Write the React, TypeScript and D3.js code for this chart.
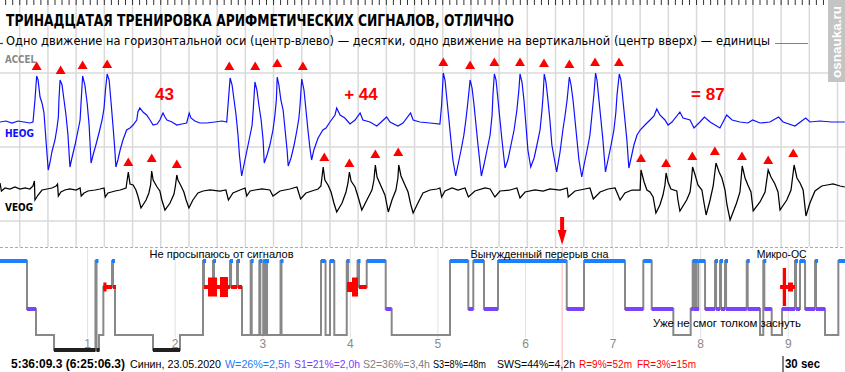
import * as d3 from 'd3';

// ---------- epoch view: 30 s starting at 5:36:09.3 ----------
const epochLength = 30;
const firstWholeSecond = 0.7;

// HEOG trace [sec, amplitude]
const heog: [number, number][] = [
  [0, 0], [0.21, 1], [0.43, -1], [0.64, 1], [0.85, 0], [1.06, -1], [1.17, 0], [1.24, 22], [1.30, 46], [1.35, 42],
  [1.42, 25], [1.49, 19], [1.56, 9], [1.63, -18], [1.71, -48], [1.77, -41], [1.84, -30], [1.95, -18], [2.02, -6], [2.07, 5],
  [2.09, 22], [2.13, 42], [2.20, 37], [2.27, 22], [2.34, 7], [2.41, -13], [2.48, -45], [2.55, -36], [2.66, -23], [2.77, -8],
  [2.84, 2], [2.87, 17], [2.93, 46], [3.01, 37], [3.09, 19], [3.16, -3], [3.23, -41], [3.30, -33], [3.40, -23], [3.51, -11],
  [3.62, 2], [3.69, 14], [3.74, 32], [3.80, 48], [3.87, 42], [3.94, 19], [4.01, -5], [4.06, -23], [4.11, -45], [4.18, -38],
  [4.26, -28], [4.36, -18], [4.49, -8], [4.61, -6], [4.72, -3], [4.85, 2], [4.89, 10], [4.96, 14], [5.07, 10], [5.20, 7],
  [5.32, 2], [5.43, -3], [5.57, -2], [5.67, 2], [5.78, 9], [5.85, 5], [5.92, 2], [6.10, 0], [6.27, -3], [6.45, -2],
  [6.62, -1], [6.71, 9], [6.77, 4], [6.91, 1], [7.09, -1], [7.33, -1], [7.62, 0], [7.87, 1], [8.04, 0], [8.10, 22],
  [8.16, 44], [8.23, 37], [8.30, 22], [8.37, 7], [8.44, -13], [8.49, -33], [8.57, -54], [8.65, -43], [8.76, -28], [8.87, -13],
  [8.94, -3], [8.98, 12], [9.04, 40], [9.11, 32], [9.18, 17], [9.26, 2], [9.33, -18], [9.37, -41], [9.47, -33], [9.57, -23],
  [9.68, -8], [9.75, 7], [9.80, 22], [9.83, 45], [9.89, 37], [9.96, 22], [10.04, 12], [10.11, -8], [10.18, -28], [10.22, -44],
  [10.32, -36], [10.43, -23], [10.53, -8], [10.60, 4], [10.64, 17], [10.70, 43], [10.78, 32], [10.85, 12], [10.92, -8], [10.99, -26],
  [11.05, -38], [11.13, -28], [11.28, -16], [11.45, -8], [11.56, -6], [11.70, 0], [11.88, 7], [11.94, 14], [12.06, 7], [12.23, 4],
  [12.41, -2], [12.59, 2], [12.77, 9], [12.87, 2], [13.12, 0], [13.36, -4], [13.48, -1], [13.71, 5], [13.83, 0], [14.11, -4],
  [14.29, -1], [14.56, 9], [14.65, 2], [14.89, 0], [15.25, -1], [15.60, -2], [15.66, 17], [15.72, 49], [15.78, 42], [15.85, 22],
  [15.92, 2], [15.99, -18], [16.06, -38], [16.16, -54], [16.24, -43], [16.35, -28], [16.45, -13], [16.52, 2], [16.60, 22], [16.67, 42],
  [16.74, 34], [16.81, 17], [16.88, -3], [16.95, -23], [17.07, -54], [17.16, -43], [17.27, -28], [17.38, -13], [17.45, 7], [17.48, 27],
  [17.53, 48], [17.59, 42], [17.66, 22], [17.73, 2], [17.80, -18], [17.91, -46], [18.01, -38], [18.12, -23], [18.23, -8], [18.33, 12],
  [18.40, 32], [18.44, 48], [18.51, 40], [18.58, 22], [18.65, -3], [18.72, -28], [18.82, -45], [18.94, -36], [19.04, -23], [19.15, -8],
  [19.22, 12], [19.26, 27], [19.30, 48], [19.36, 40], [19.43, 22], [19.50, 2], [19.57, -23], [19.74, -50], [19.86, -30], [19.96, -8],
  [20.04, 7], [20.11, 22], [20.19, 45], [20.25, 37], [20.32, 22], [20.39, 2], [20.46, -18], [20.53, -38], [20.63, -55], [20.71, -43],
  [20.82, -28], [20.92, -13], [20.99, 7], [21.06, 27], [21.12, 49], [21.17, 42], [21.24, 22], [21.31, 2], [21.38, -18], [21.47, -50],
  [21.56, -38], [21.67, -23], [21.77, -8], [21.84, 10], [21.88, 27], [21.96, 48], [22.02, 42], [22.09, 22], [22.16, 2], [22.23, -18],
  [22.30, -46], [22.38, -36], [22.48, -23], [22.59, -13], [22.70, -8], [22.87, -3], [23.05, 2], [23.19, 6], [23.29, 13], [23.40, 7],
  [23.58, 2], [23.69, -3], [23.83, 0], [24.11, 10], [24.22, 4], [24.47, 2], [24.61, -6], [24.82, 0], [24.98, 5], [25.18, 0],
  [25.53, -6], [25.77, 7], [25.96, 2], [26.24, 0], [26.52, -1], [26.69, 2], [26.95, -1], [27.30, 0], [27.61, 5], [27.77, 0],
  [28.19, -4], [28.57, 4], [28.72, 0], [29.08, 1], [29.49, 0], [29.96, 0],
];

// VEOG trace [sec, amplitude]
const veog: [number, number][] = [
  [0, 8], [0.05, 0], [0.18, 3], [0.35, 2], [0.53, 4], [0.71, 2], [0.89, 3], [1.06, 2], [1.17, 5], [1.22, 10],
  [1.24, -9], [1.35, -4], [1.49, 1], [1.67, 2], [1.84, 3], [1.99, 5], [2.04, 7], [2.07, -5], [2.16, -1], [2.30, 1],
  [2.48, 2], [2.70, 1], [2.84, 3], [2.88, -5], [2.98, -2], [3.12, 0], [3.37, 1], [3.55, 2], [3.69, 3], [3.73, -6],
  [3.83, -2], [4.08, 0], [4.26, 1], [4.47, 3], [4.50, 9], [4.55, 19], [4.61, 7], [4.72, 6], [4.82, 1], [4.89, -5],
  [5.00, -17], [5.18, -9], [5.28, -2], [5.34, 6], [5.38, 20], [5.43, 11], [5.57, 4], [5.67, 0], [5.74, -9], [5.85, -19],
  [6.03, -12], [6.17, -3], [6.22, 5], [6.27, 16], [6.31, 11], [6.42, 5], [6.52, -1], [6.60, -9], [6.70, -17], [6.84, -9],
  [7.02, -2], [7.20, 0], [7.45, 1], [7.80, 0], [8.01, 1], [8.10, -9], [8.26, -2], [8.51, 1], [8.69, 3], [8.75, -5],
  [8.87, 0], [9.04, 1], [9.29, 2], [9.57, 1], [9.68, -5], [9.93, 0], [10.28, 2], [10.53, 4], [10.66, -8], [10.85, -2],
  [11.06, 0], [11.28, 2], [11.38, 5], [11.46, 24], [11.52, 11], [11.63, 6], [11.74, -1], [11.84, -12], [11.94, -21], [12.13, -12],
  [12.27, -1], [12.34, 8], [12.39, 19], [12.45, 10], [12.59, 4], [12.70, -6], [12.83, -19], [13.01, -9], [13.19, 1], [13.26, 11],
  [13.31, 26], [13.37, 14], [13.51, 5], [13.65, -4], [13.77, -21], [13.90, -9], [14.04, 1], [14.11, 13], [14.14, 26], [14.22, 15],
  [14.36, 6], [14.47, -1], [14.57, -14], [14.65, -22], [14.82, -12], [15.00, -2], [15.25, 1], [15.50, 2], [15.60, 3], [15.66, -6],
  [15.78, 0], [16.03, 3], [16.24, 1], [16.49, 3], [16.61, -6], [16.84, 0], [17.20, 3], [17.38, 2], [17.55, -6], [17.73, 0],
  [18.09, 1], [18.33, 3], [18.44, -7], [18.62, -1], [18.97, 1], [19.26, 0], [19.50, 2], [19.86, 1], [20.11, 3], [20.15, -6],
  [20.39, 0], [20.74, 2], [20.92, 3], [21.04, -8], [21.28, -1], [21.56, 2], [21.81, 3], [21.99, -9], [22.16, -2], [22.41, 1],
  [22.70, 1], [22.73, 21], [22.84, 9], [22.94, 1], [23.05, -1], [23.16, -6], [23.26, -22], [23.40, -14], [23.51, -4], [23.58, 6],
  [23.62, 18], [23.69, 9], [23.79, 2], [24.00, 0], [24.04, -9], [24.11, -20], [24.35, -9], [24.47, -1], [24.52, 11], [24.56, 24],
  [24.65, 16], [24.75, 6], [24.89, 1], [24.96, -11], [25.04, -24], [25.18, -9], [25.29, 5], [25.39, 28], [25.50, 19], [25.60, 13],
  [25.71, 1], [25.78, -14], [25.89, -29], [26.12, -12], [26.24, -1], [26.32, 25], [26.42, 13], [26.52, 6], [26.63, -1], [26.71, -20],
  [26.95, -11], [27.13, -1], [27.24, 21], [27.34, 14], [27.48, 7], [27.59, -1], [27.66, -19], [27.90, -9], [28.05, 1], [28.16, 26],
  [28.26, 13], [28.37, 8], [28.48, 1], [28.58, -25], [28.72, -12], [28.90, 0], [29.14, 5], [29.33, 6], [29.54, 7], [29.79, 5],
  [29.96, 4],
];

// detected signals: horizontal (tens) and vertical (units) movements
const heogMarks: [number, number][] = [
  [1.30, 56], [2.15, 52], [2.93, 57], [3.80, 58], [8.13, 56], [9.05, 56], [9.83, 59], [10.74, 56],
  [15.72, 60], [16.67, 57], [17.53, 60], [18.44, 60], [19.29, 59], [20.19, 58], [21.10, 60], [21.95, 60],
];
const veogMarks: [number, number][] = [
  [4.55, 29], [5.38, 33], [6.27, 27], [11.50, 34], [12.39, 28], [13.31, 37], [14.12, 39],
  [22.73, 33], [23.62, 28], [24.55, 35], [25.35, 40], [26.31, 35], [27.24, 31], [28.13, 38],
];
const answerTimes = [5.83, 12.8, 25.1];
const answerLabels = ['43', '+ 44', '= 87'];

// ---------- hypnogram (hours from start) ----------
const stages = ['W', 'R', 'S1', 'S2', 'S3'];
const recordEnd = 9.648;
const currentHour = 6.418; // 6:25:06.3
const hypno: [number, string][] = [
  [0, 'W'], [0.308, 'S1'], [0.411, 'S2'], [0.617, 'S3'], [1.090, 'W'], [1.102, 'S3'], [1.130, 'S2'], [1.180, 'R'],
  [1.279, 'W'], [1.290, 'R'], [1.313, 'S2'], [1.747, 'S3'], [2.055, 'S2'], [2.318, 'W'], [2.329, 'R'], [2.432, 'W'],
  [2.443, 'R'], [2.626, 'W'], [2.638, 'R'], [2.706, 'W'], [2.717, 'R'], [2.763, 'S2'], [2.862, 'W'], [2.874, 'S2'],
  [2.961, 'W'], [2.972, 'S2'], [3.006, 'W'], [3.018, 'S2'], [3.037, 'W'], [3.049, 'S2'], [3.203, 'W'], [3.214, 'S2'],
  [3.665, 'W'], [3.717, 'S2'], [3.768, 'W'], [3.817, 'S2'], [3.959, 'W'], [3.974, 'R'], [4.082, 'W'], [4.099, 'R'],
  [4.187, 'W'], [4.404, 'S1'], [4.472, 'S2'], [5.138, 'W'], [5.347, 'S1'], [5.404, 'W'], [5.526, 'S1'], [5.686, 'W'],
  [6.471, 'S1'], [6.668, 'W'], [7.136, 'S1'], [7.345, 'W'], [7.441, 'S1'], [7.688, 'S2'], [7.886, 'S1'], [7.909, 'W'],
  [7.921, 'S1'], [7.935, 'W'], [7.947, 'S1'], [7.973, 'W'], [8.050, 'S1'], [8.164, 'W'], [8.176, 'S1'], [8.221, 'W'],
  [8.232, 'S1'], [8.278, 'W'], [8.290, 'S1'], [8.526, 'W'], [8.537, 'S1'], [8.678, 'S2'], [8.715, 'W'], [8.727, 'S1'],
  [8.811, 'S2'], [8.929, 'S1'], [9.077, 'W'], [9.089, 'S1'], [9.134, 'W'], [9.192, 'S1'], [9.306, 'W'], [9.317, 'S1'],
  [9.420, 'S2'], [9.572, 'W'],
];
// rapid eye movement bursts [from, to, intensity]
const remBursts: [number, number, number][] = [
  [1.180, 1.216, 4.5], [2.375, 2.478, 9.5], [2.512, 2.603, 10], [3.962, 4.031, 5], [4.019, 4.088, 9.5],
  [8.906, 9.077, 2], [8.997, 9.054, 4.5], [8.937, 8.975, 19],
];
const hours = [1, 2, 3, 4, 5, 6, 7, 8, 9];
const noteHours = [2.53, 6.16, 8.925, 8.301];
const noteTexts = ['Не просыпаюсь от сигналов', 'Вынужденный перерыв сна', 'Микро-ОС', 'Уже не смог толком заснуть'];
const noteLevels = ['top', 'top', 'top', 'low'];
const noteWidths = [144, 138, 50, 148];

// summary line
const summaryTexts = ['Синин, 23.05.2020', 'W=26%=2,5h', 'S1=21%=2,0h', 'S2=36%=3,4h', 'S3=8%=48m', 'SWS=44%=4,2h', 'R=9%=52m', 'FR=3%=15m'];
const summaryColors = ['#000', '#1f7bff', '#7a3cff', '#808080', '#000', '#000', '#f00', '#f00'];
const summaryWidths = [91, 65, 66, 67, 53, 78, 53, 59];
const summaryX = [130, 225, 294, 363, 433, 497, 579, 637];

const stageColor: Record<string, string> = { W: '#1a80ff', R: '#ff0000', S1: '#7a44ff', S2: '#888888', S3: '#202020' };

export default function App() {
  const width = 845;
  const height = 372;
  const font = 'DejaVu Sans, Verdana, sans-serif';
  const sans = 'Liberation Sans, Arial, sans-serif';

  const tx = d3.scaleLinear().domain([0, epochLength]).range([0, 846]);
  const yH = d3.scaleLinear().domain([-60, 60]).range([182, 62]);
  const yV = d3.scaleLinear().domain([-60, 60]).range([251, 131]);
  const hx = d3.scaleLinear().domain([0, recordEnd]).range([0, 845]);
  const sy = d3.scaleOrdinal<string, number>().domain(stages).range([261, 287, 309, 335, 350]);

  const lineH = d3.line<[number, number]>().x(d => tx(d[0])).y(d => yH(d[1]));
  const lineV = d3.line<[number, number]>().x(d => tx(d[0])).y(d => yV(d[1]));

  const secGrid = d3.range(firstWholeSecond, epochLength, 1);
  const quarterTicks = d3.range(firstWholeSecond - 0.75, epochLength, 0.25);

  const segs = hypno.map((d, i) => ({
    start: d[0],
    end: i < hypno.length - 1 ? hypno[i + 1][0] : recordEnd,
    stage: d[1],
  }));
  const stepLine = d3.line<[number, string]>()
    .curve(d3.curveStepAfter)
    .x(d => hx(d[0]))
    .y(d => sy(d[1]));
  const stepData: [number, string][] = [...hypno, [recordEnd, hypno[hypno.length - 1][1]]];

  const tri = (cx: number, cy: number) =>
    `M${cx - 5},${cy + 4}L${cx},${cy - 4.5}L${cx + 5},${cy + 4}Z`;

  const cx = hx(currentHour);

  return (
    <svg width={width} height={height} style={{ position: 'fixed', left: 0, top: 0, background: '#fff' }}>
      <rect width={width} height={height} fill="#fff" />

      {/* epoch grid */}
      {secGrid.map(s => (
        <line key={'g' + s} x1={tx(s)} x2={tx(s)} y1={0} y2={247} stroke="#dadada" strokeWidth={1.5} />
      ))}
      {[73, 147, 221].map(y => (
        <line key={'h' + y} x1={0} x2={width} y1={y} y2={y} stroke="#dadada" strokeWidth={1.5} />
      ))}
      {quarterTicks.map(s => (
        <line key={'q' + s} x1={tx(s)} x2={tx(s)} y1={0} y2={5} stroke="#333" strokeWidth={1} />
      ))}

      {/* titles */}
      <text x={6} y={26} fontFamily={font} fontWeight="bold" fontSize={15} textLength={508} lengthAdjust="spacingAndGlyphs">
        ТРИНАДЦАТАЯ ТРЕНИРОВКА АРИФМЕТИЧЕСКИХ СИГНАЛОВ, ОТЛИЧНО
      </text>
      <text x={6} y={44.5} fontFamily={font} fontSize={12.5} textLength={764} lengthAdjust="spacingAndGlyphs">
        Одно движение на горизонтальной оси (центр-влево) — десятки, одно движение на вертикальной (центр вверх) — единицы
      </text>
      <line x1={775} x2={808} y1={43.5} y2={43.5} stroke="#808080" strokeWidth={1.2} />
      <line x1={0} x2={3} y1={43.5} y2={43.5} stroke="#404040" strokeWidth={1.2} />

      {/* channel labels */}
      <text x={5} y={62.5} fontFamily={font} fontWeight="bold" fontSize={10.5} fill="#888" textLength={31} lengthAdjust="spacingAndGlyphs">ACCEL</text>
      <text x={5} y={137} fontFamily={font} fontWeight="bold" fontSize={10.5} fill="#1010ff" textLength={29} lengthAdjust="spacingAndGlyphs">HEOG</text>
      <text x={5} y={211} fontFamily={font} fontWeight="bold" fontSize={10.5} fill="#000" textLength={28} lengthAdjust="spacingAndGlyphs">VEOG</text>

      {/* traces */}
      <path d={lineV(veog) ?? ''} fill="none" stroke="#000" strokeWidth={1.25} />
      <path d={lineH(heog) ?? ''} fill="none" stroke="#1010ff" strokeWidth={1.2} />

      {/* markers */}
      {heogMarks.map((d, i) => (
        <path key={'hm' + i} d={tri(tx(d[0]), yH(d[1]))} fill="#f00" />
      ))}
      {veogMarks.map((d, i) => (
        <path key={'vm' + i} d={tri(tx(d[0]), yV(d[1]))} fill="#f00" />
      ))}
      {answerTimes.map((t, i) => (
        <text key={'a' + i} x={tx(t)} y={100} textAnchor="middle" fontFamily={sans}
          fontWeight="bold" fontSize={17} fill="#f00">{answerLabels[i]}</text>
      ))}

      {/* current-position arrow */}
      <rect x={cx - 2} y={217} width={4} height={14} fill="#f00" />
      <path d={`M${cx - 4.5},230L${cx + 4.5},230L${cx},245Z`} fill="#f00" />

      {/* watermark */}
      <rect x={828} y={0} width={17} height={82} fill="#c4c4c4" />
      <g transform="translate(840.5,42) rotate(-90)">
        <text x={0} y={0} textAnchor="middle" fontFamily={sans} fontWeight="bold"
          fontSize={13} fill="#fff" textLength={72} lengthAdjust="spacingAndGlyphs">osnauka.ru</text>
      </g>

      {/* hypnogram */}
      <line x1={0} x2={width} y1={247.5} y2={247.5} stroke="#aaa" strokeDasharray="3,2" />
      {hours.map(h => (
        <line key={'hg' + h} x1={hx(h)} x2={hx(h)} y1={248} y2={338} stroke="#e2e2e2" strokeWidth={1} />
      ))}
      <line x1={cx} x2={cx} y1={248} y2={372} stroke="#ffb4b4" strokeWidth={1} />
      <path d={stepLine(stepData) ?? ''} fill="none" stroke="#888" strokeWidth={2} />
      {segs.filter(s => s.stage !== 'S2').map((s, i) => (
        <rect key={'s' + i} x={hx(s.start)} y={sy(s.stage) - 2} width={Math.max(hx(s.end) - hx(s.start), 3)}
          height={4} fill={stageColor[s.stage]} />
      ))}
      {remBursts.map((b, i) => (
        <rect key={'r' + i} x={hx(b[0])} y={sy('R') - b[2]} width={Math.max(hx(b[1]) - hx(b[0]), 3)}
          height={b[2] * 2} fill="#f00" />
      ))}
      {hours.map(h => (
        <text key={'hl' + h} x={hx(h)} y={348} textAnchor="middle" fontFamily={sans} fontSize={12} fill="#8a8a8a">{h}</text>
      ))}
      {noteTexts.map((t, i) => (
        <text key={'n' + i} x={hx(noteHours[i])} y={noteLevels[i] === 'top' ? 258 : 327} textAnchor="middle" fontFamily={sans}
          fontSize={11.5} fill="#000" textLength={noteWidths[i]} lengthAdjust="spacingAndGlyphs">{t}</text>
      ))}

      {/* status line */}
      <text x={11} y={368} fontFamily={sans} fontWeight="bold" fontSize={12.5} textLength={114} lengthAdjust="spacingAndGlyphs">
        5:36:09.3 (6:25:06.3)
      </text>
      {summaryTexts.map((s, i) => (
        <text key={'sm' + i} x={summaryX[i]} y={368} fontFamily={sans} fontSize={10.5} fill={summaryColors[i]}
          textLength={summaryWidths[i]} lengthAdjust="spacingAndGlyphs">{s}</text>
      ))}
      <line x1={783} x2={783} y1={356} y2={372} stroke="#000" strokeWidth={1} />
      <text x={785} y={368} fontFamily={sans} fontWeight="bold" fontSize={12.5} textLength={35} lengthAdjust="spacingAndGlyphs">30 sec</text>
    </svg>
  );
}
